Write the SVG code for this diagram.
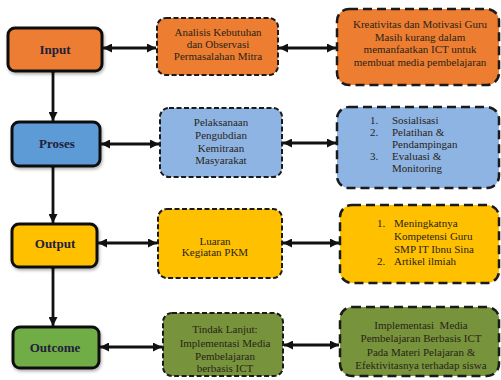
<svg xmlns="http://www.w3.org/2000/svg" width="501" height="380" viewBox="0 0 501 380">
<defs>
<style>
.lbl{font-family:"Liberation Serif",serif;font-weight:bold;font-size:13px;text-anchor:middle;fill:#22203a}
.t{font-family:"Liberation Serif",serif;font-size:11px;fill:#2a2418}
.c{text-anchor:middle}
.main{stroke:#111;stroke-width:3}
.mid{stroke:#1a1a1a;stroke-width:2;stroke-dasharray:5 2.5}
.rgt{stroke:#1a1a1a;stroke-width:2.5;stroke-dasharray:9 5}
.ln{stroke:#111;stroke-width:2.8;fill:none}
</style>
<marker id="ah" viewBox="0 0 10 10" refX="10" refY="5" markerWidth="9" markerHeight="9" markerUnits="userSpaceOnUse" orient="auto-start-reverse">
<path d="M0,0 L10,5 L0,10 z" fill="#111"/>
</marker>
<filter id="sh" x="-10%" y="-10%" width="130%" height="140%">
<feDropShadow dx="1" dy="2" stdDeviation="1.5" flood-color="#000" flood-opacity="0.3"/>
</filter>
</defs>
<rect width="501" height="380" fill="#fff"/>

<g id="connectors">
<line class="ln" x1="53" y1="71" x2="53" y2="121" marker-end="url(#ah)"/>
<line class="ln" x1="53" y1="166" x2="53" y2="223" marker-end="url(#ah)"/>
<line class="ln" x1="53" y1="267" x2="53" y2="326" marker-end="url(#ah)"/>
<circle cx="53" cy="71" r="2.3" fill="#111"/>
<circle cx="53" cy="166" r="2.3" fill="#111"/>
<circle cx="53" cy="267" r="2.3" fill="#111"/>
<line class="ln" x1="103" y1="48" x2="156" y2="48" marker-start="url(#ah)" marker-end="url(#ah)"/>
<line class="ln" x1="279" y1="48" x2="336" y2="48" marker-start="url(#ah)" marker-end="url(#ah)"/>
<line class="ln" x1="101" y1="144" x2="159" y2="144" marker-start="url(#ah)" marker-end="url(#ah)"/>
<line class="ln" x1="283" y1="143" x2="336" y2="143" marker-start="url(#ah)" marker-end="url(#ah)"/>
<line class="ln" x1="98" y1="243" x2="157" y2="243" marker-start="url(#ah)" marker-end="url(#ah)"/>
<line class="ln" x1="283" y1="243" x2="339" y2="243" marker-start="url(#ah)" marker-end="url(#ah)"/>
<line class="ln" x1="100" y1="347" x2="162" y2="347" marker-start="url(#ah)" marker-end="url(#ah)"/>
<line class="ln" x1="284" y1="345" x2="339" y2="345" marker-start="url(#ah)" marker-end="url(#ah)"/>
</g>

<g id="input">
<rect class="main" x="8" y="28" width="94" height="43" rx="7" fill="#ED7D31" filter="url(#sh)"/>
<text class="lbl" x="55" y="54">Input</text>
</g>
<g id="proses">
<rect class="main" x="12" y="122" width="88" height="44" rx="7" fill="#5B9BD5" filter="url(#sh)"/>
<text class="lbl" x="57" y="148">Proses</text>
</g>
<g id="output">
<rect class="main" x="12" y="224" width="85" height="43" rx="7" fill="#FFC000" filter="url(#sh)"/>
<text class="lbl" x="55" y="248">Output</text>
</g>
<g id="outcome">
<rect class="main" x="13" y="327" width="86" height="41" rx="7" fill="#70AD47" filter="url(#sh)"/>
<text class="lbl" x="55" y="352">Outcome</text>
</g>

<g id="analisis">
<rect class="mid" x="157" y="18" width="121" height="57" rx="9" fill="#ED7D31"/>
<text class="t c" x="218" y="36">Analisis Kebutuhan</text>
<text class="t c" x="218" y="48">dan Observasi</text>
<text class="t c" x="218" y="60">Permasalahan Mitra</text>
</g>
<g id="kreativitas">
<rect class="rgt" x="337" y="9" width="162" height="76" rx="12" fill="#ED7D31"/>
<text class="t c" x="420" y="28">Kreativitas dan Motivasi Guru</text>
<text class="t c" x="420" y="40.5">Masih kurang dalam</text>
<text class="t c" x="420" y="53">memanfaatkan ICT untuk</text>
<text class="t c" x="420" y="65.5">membuat media pembelajaran</text>
</g>

<g id="pelaksanaan">
<rect class="mid" x="160" y="108" width="122" height="69" rx="9" fill="#8EB4E3"/>
<text class="t c" x="221" y="126" fill="#1f2d4a">Pelaksanaan</text>
<text class="t c" x="221" y="139" fill="#1f2d4a">Pengubdian</text>
<text class="t c" x="221" y="151.5" fill="#1f2d4a">Kemitraan</text>
<text class="t c" x="221" y="164" fill="#1f2d4a">Masyarakat</text>
</g>
<g id="kegiatan">
<rect class="rgt" x="337" y="107" width="162" height="81" rx="12" fill="#8EB4E3"/>
<text class="t" x="370" y="123.5" fill="#1f2d4a">1.</text>
<text class="t" x="392" y="123.5" fill="#1f2d4a">Sosialisasi</text>
<text class="t" x="370" y="135.5" fill="#1f2d4a">2.</text>
<text class="t" x="392" y="135.5" fill="#1f2d4a">Pelatihan &amp;</text>
<text class="t" x="392" y="148" fill="#1f2d4a">Pendampingan</text>
<text class="t" x="370" y="160" fill="#1f2d4a">3.</text>
<text class="t" x="392" y="160" fill="#1f2d4a">Evaluasi &amp;</text>
<text class="t" x="392" y="172" fill="#1f2d4a">Monitoring</text>
</g>

<g id="luaran">
<rect class="mid" x="158" y="209" width="124" height="69" rx="9" fill="#FFC000"/>
<text class="t c" x="215" y="244.5">Luaran</text>
<text class="t c" x="215" y="256">Kegiatan PKM</text>
</g>
<g id="hasil">
<rect class="rgt" x="340" y="205" width="159" height="78" rx="12" fill="#FFC000"/>
<text class="t" x="377" y="226.5">1.</text>
<text class="t" x="394" y="226.5">Meningkatnya</text>
<text class="t" x="394" y="240">Kompetensi Guru</text>
<text class="t" x="394" y="252.5">SMP IT Ibnu Sina</text>
<text class="t" x="377" y="264.5">2.</text>
<text class="t" x="394" y="264.5">Artikel ilmiah</text>
</g>

<g id="tindak">
<rect class="mid" x="163" y="313" width="120" height="63" rx="9" fill="#77933C"/>
<text class="t c" x="225" y="332.5" fill="#1c2410">Tindak Lanjut:</text>
<text class="t c" x="225" y="346.5" fill="#1c2410">Implementasi Media</text>
<text class="t c" x="225" y="359.5" fill="#1c2410">Pembelajaran</text>
<text class="t c" x="225" y="372" fill="#1c2410">berbasis ICT</text>
</g>
<g id="implementasi">
<rect class="rgt" x="340" y="307" width="159" height="69" rx="12" fill="#77933C"/>
<text class="t c" x="421" y="328.5" fill="#1c2410" xml:space="preserve">Implementasi  Media</text>
<text class="t c" x="421" y="341.5" fill="#1c2410">Pembelajaran Berbasis ICT</text>
<text class="t c" x="421" y="355.5" fill="#1c2410">Pada Materi Pelajaran &amp;</text>
<text class="t c" x="421" y="368.5" fill="#1c2410">Efektivitasnya terhadap siswa</text>
</g>
</svg>
